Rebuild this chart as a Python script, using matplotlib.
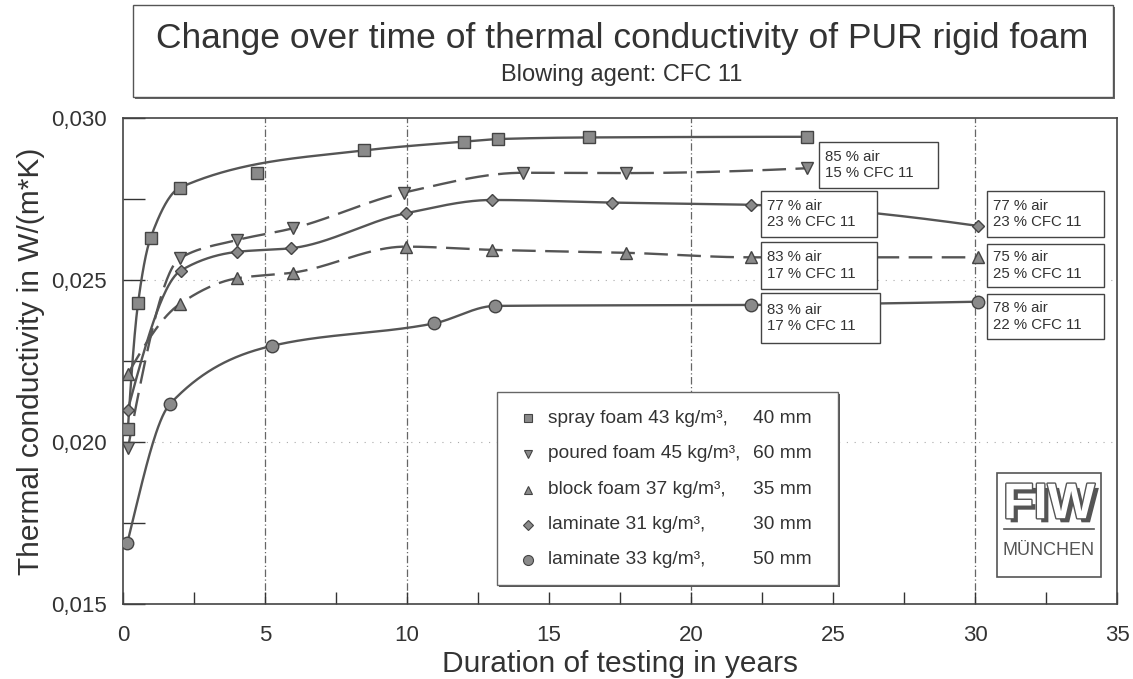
import numpy as np
import matplotlib
matplotlib.use("Agg")
import matplotlib.pyplot as plt
import matplotlib.patheffects as pe
from matplotlib.patches import Rectangle
from matplotlib.ticker import MultipleLocator, FuncFormatter

plt.rcParams['font.family'] = ['Liberation Sans', 'DejaVu Sans']

# data (years, W/(m*K))
spray_x = [0.17, 0.53, 0.97, 2.0, 4.7, 8.5, 12.0, 13.2, 16.4, 24.1]
spray_y = [0.0204, 0.0243, 0.0263, 0.02785, 0.0283, 0.0290, 0.02927, 0.02935, 0.0294, 0.02942]
spray_off_curve = [4]  # the 4.7 year square lies below the drawn curve

poured_x = [0.17, 2.0, 4.0, 6.0, 9.9, 14.1, 17.7, 24.1]
poured_y = [0.0198, 0.02567, 0.02623, 0.0266, 0.0277, 0.02831, 0.0283, 0.02845]

block_x = [0.17, 2.0, 4.0, 6.0, 9.95, 13.0, 17.7, 22.1, 30.1]
block_y = [0.0221, 0.02426, 0.02505, 0.02523, 0.02603, 0.02593, 0.02584, 0.02570, 0.02570]

lam31_x = [0.17, 2.03, 4.03, 5.9, 9.96, 13.0, 17.2, 22.1, 30.1]
lam31_y = [0.0210, 0.02529, 0.02587, 0.02598, 0.02706, 0.02747, 0.02739, 0.02732, 0.02667]

lam33_x = [0.15, 1.65, 5.26, 10.95, 13.1, 22.1, 30.1]
lam33_y = [0.01688, 0.02117, 0.02297, 0.02366, 0.0242, 0.02423, 0.02433]

legend_names = ["spray foam 43 kg/m³,", "poured foam 45 kg/m³,", "block foam 37 kg/m³,",
                "laminate 31 kg/m³,", "laminate 33 kg/m³,"]
legend_thick = ["40 mm", "60 mm", "35 mm", "30 mm", "50 mm"]

box_texts = ["85 % air\n15 % CFC 11", "77 % air\n23 % CFC 11", "83 % air\n17 % CFC 11",
             "83 % air\n17 % CFC 11", "77 % air\n23 % CFC 11", "75 % air\n25 % CFC 11",
             "78 % air\n22 % CFC 11"]
# left, bottom, right, top in data units
box_pos = [(24.5, 0.02784, 28.7, 0.02926), (22.46, 0.02633, 26.55, 0.02775),
           (22.46, 0.02472, 26.55, 0.02617), (22.46, 0.02306, 26.65, 0.0246),
           (30.42, 0.02633, 34.54, 0.02775), (30.42, 0.02478, 34.54, 0.02611),
           (30.42, 0.02318, 34.54, 0.02457)]


def pchip(x, y, xs):
    x = np.asarray(x, float)
    y = np.asarray(y, float)
    h = np.diff(x)
    d = np.diff(y) / h
    n = len(x)
    m = np.zeros(n)
    for k in range(1, n - 1):
        if d[k - 1] * d[k] > 0:
            w1 = 2 * h[k] + h[k - 1]
            w2 = h[k] + 2 * h[k - 1]
            m[k] = (w1 + w2) / (w1 / d[k - 1] + w2 / d[k])
    # three point end slopes
    m[0] = ((2 * h[0] + h[1]) * d[0] - h[0] * d[1]) / (h[0] + h[1])
    if np.sign(m[0]) != np.sign(d[0]):
        m[0] = 0
    m[-1] = ((2 * h[-1] + h[-2]) * d[-1] - h[-1] * d[-2]) / (h[-1] + h[-2])
    if np.sign(m[-1]) != np.sign(d[-1]):
        m[-1] = 0
    i = np.clip(np.searchsorted(x, xs) - 1, 0, n - 2)
    t = (xs - x[i]) / h[i]
    h00 = 2 * t**3 - 3 * t**2 + 1
    h10 = t**3 - 2 * t**2 + t
    h01 = -2 * t**3 + 3 * t**2
    h11 = t**3 - t**2
    return h00 * y[i] + h10 * h[i] * m[i] + h01 * y[i + 1] + h11 * h[i] * m[i + 1]


fig = plt.figure(figsize=(11.33, 6.79), dpi=100)
ax = fig.add_axes([0.1086, 0.1105, 0.8773, 0.7157])

grey = '#555555'
series = [
    (spray_x, spray_y, 's', 8, '-', spray_off_curve),
    (poured_x, poured_y, 'v', 8, (0, (10, 4)), []),
    (block_x, block_y, '^', 8, (0, (10, 4)), []),
    (lam31_x, lam31_y, 'D', 6, '-', []),
    (lam33_x, lam33_y, 'o', 9, '-', []),
]

for xs_, ys_, mk, ms, ls, skip in series:
    cx = [v for k, v in enumerate(xs_) if k not in skip]
    cy = [v for k, v in enumerate(ys_) if k not in skip]
    xx = np.linspace(cx[0], cx[-1], 800)
    ax.plot(xx, pchip(cx, cy, xx), color=grey, lw=1.7, ls=ls, zorder=3)
    ax.plot(xs_, ys_, ls='none', marker=mk, ms=ms, mfc='#8a8a8a', mec='#444444',
            mew=1.0, zorder=4)

# grid lines
for gx in [5, 10, 20, 30]:
    ax.axvline(gx, color='#666666', lw=0.9, ls=(0, (6, 2, 1, 2)), zorder=1)
for gy in [0.020, 0.025]:
    ax.axhline(gy, color='#aaaaaa', lw=0.8, ls=(0, (1, 6)), zorder=1)

ax.set_xlim(0, 35)
ax.set_ylim(0.015, 0.030)
ax.xaxis.set_major_locator(MultipleLocator(5))
ax.xaxis.set_minor_locator(MultipleLocator(2.5))
ax.yaxis.set_major_locator(MultipleLocator(0.005))
ax.yaxis.set_minor_locator(MultipleLocator(0.0025))
ax.yaxis.set_major_formatter(FuncFormatter(lambda v, p: f"{v:.3f}".replace('.', ',')))
ax.tick_params(axis='both', which='both', direction='in', colors='#333333',
               labelcolor='#333333', labelsize=16, width=1)
ax.tick_params(axis='x', which='both', length=9, pad=15)
ax.tick_params(axis='y', which='both', length=16, pad=12)
for s in ax.spines.values():
    s.set_color('#444444')
    s.set_linewidth(1.2)

ax.set_xlabel("Duration of testing in years", fontsize=21.5, color='#333333', labelpad=3)
ax.set_ylabel("Thermal conductivity in W/(m*K)", fontsize=21.5, color='#333333', labelpad=4)

# annotation boxes
for (x0, y0, x1, y1), txt in zip(box_pos, box_texts):
    ax.add_patch(Rectangle((x0, y0), x1 - x0, y1 - y0, fc='white', ec='#444444',
                           lw=1.0, zorder=5))
    ax.text(x0 + 0.2, (y0 + y1) / 2, txt, fontsize=10.8, color='#333333',
            va='center', ha='left', linespacing=1.2, zorder=6)

# legend box
lx0, ly0, lx1, ly1 = 13.17, 0.01559, 25.18, 0.02154
ax.add_patch(Rectangle((lx0 + 0.08, ly0 - 0.00007), lx1 - lx0, ly1 - ly0, fc='#555555',
                       ec='none', zorder=5))
ax.add_patch(Rectangle((lx0, ly0), lx1 - lx0, ly1 - ly0, fc='white', ec='#666666',
                       lw=1.0, zorder=6))
row_y = [0.02074, 0.01963, 0.01852, 0.01744, 0.01636]
for (xs_, ys_, mk, ms, ls, skip), name, th, ry in zip(series, legend_names, legend_thick, row_y):
    ax.plot([14.26], [ry], ls='none', marker=mk, ms=ms * 0.8, mfc='#8a8a8a',
            mec='#444444', mew=0.8, zorder=7)
    ax.text(14.96, ry, name, fontsize=13.8, color='#333333', va='center', zorder=7)
    ax.text(22.18, ry, th, fontsize=13.8, color='#333333', va='center', zorder=7)

# FIW logo
gx0, gy0, gx1, gy1 = 30.77, 0.01583, 34.44, 0.01904
ax.add_patch(Rectangle((gx0, gy0), gx1 - gx0, gy1 - gy0, fc='white', ec='#555555',
                       lw=1.2, zorder=5))
ax.text((gx0 + gx1) / 2, 0.01805, "FIW", fontsize=36, fontweight='bold',
        color='white', ha='center', va='center', zorder=7,
        path_effects=[pe.withSimplePatchShadow(offset=(3, -3), shadow_rgbFace='#555555',
                                               alpha=1.0),
                      pe.withStroke(linewidth=2, foreground='#555555')])
ax.plot([gx0 + 0.25, gx1 - 0.25], [0.0173, 0.0173], color='#555555', lw=1.2, zorder=7)
ax.text((gx0 + gx1) / 2, 0.01664, "MÜNCHEN", fontsize=13, color='#555555',
        ha='center', va='center', zorder=7)

# title box
fig.patches.append(Rectangle((0.1174 + 0.002, 0.857 - 0.003), 0.865, 0.1355,
                             transform=fig.transFigure, fc='#666666', ec='none'))
fig.patches.append(Rectangle((0.1174, 0.857), 0.865, 0.1355, transform=fig.transFigure,
                             fc='white', ec='#555555', lw=1.0))
fig.text(0.549, 0.944, "Change over time of thermal conductivity of PUR rigid foam",
         fontsize=25.5, color='#333333', ha='center', va='center')
fig.text(0.549, 0.889, "Blowing agent: CFC 11", fontsize=17, color='#333333',
         ha='center', va='center')

fig.savefig("out.png", dpi=100)
